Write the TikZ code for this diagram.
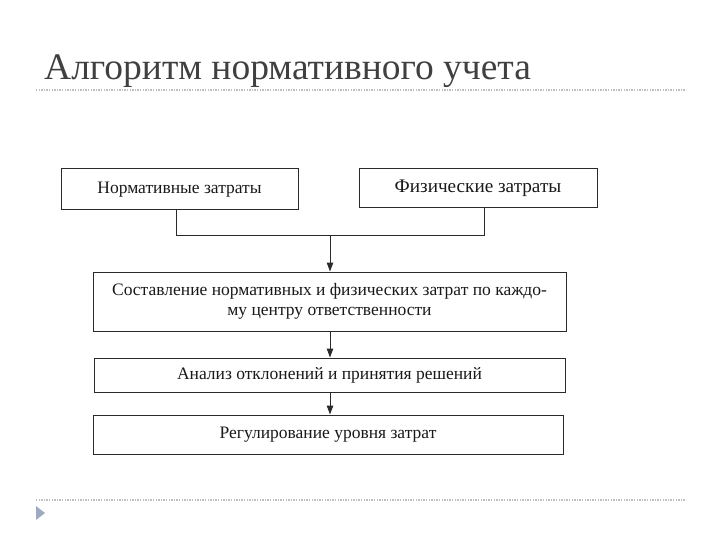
\documentclass[tikz,border=0pt]{standalone}
\usepackage{fontspec}
\setmainfont{Liberation Serif}
\usetikzlibrary{arrows.meta}
\definecolor{titlegray}{HTML}{404040}
\definecolor{dotgray}{HTML}{BFBFBF}
\definecolor{bulletblue}{HTML}{9DAAC0}
\definecolor{linegray}{HTML}{2A2A2A}
\tikzset{
  box/.style={draw=linegray, line width=1pt, minimum height=#1, inner sep=0pt, align=center, font=\fontsize{17.5}{20}\selectfont, text=black!90},
  conn/.style={draw=linegray, line width=1pt},
  arr/.style={conn, -{Triangle[length=9pt,width=6.5pt]}},
  sep/.style={dotgray, line width=1.3pt, dash pattern=on 1.3pt off 1.3pt}
}
\begin{document}
\begin{tikzpicture}[x=1pt,y=-1pt]
\useasboundingbox (0,0) rectangle (720,540);
\node[anchor=base west, text=titlegray, font=\fontsize{37.5}{42}\selectfont, inner sep=0pt] (title) at (44,80) {Алгоритм нормативного учета};
\draw[sep] (36,90) -- (686,90);
\draw[sep] (36,500) -- (686,500);
\fill[bulletblue] (36,506) -- (45,513) -- (36,520) -- cycle;

\node[box=41pt, minimum width=237pt] (b1) at (179.5,189.5) {Нормативные затраты};
\node[box=39pt, minimum width=238pt, font=\fontsize{19.2}{22}\selectfont] (b2) at (478,188.5) {Физические затраты};
\node[box=59pt, minimum width=473pt] (b3) at (329.5,301.5) {Составление нормативных и физических затрат по каждо-\\му центру ответственности};
\node[box=34pt, minimum width=471pt] (b4) at (329.5,375) {Анализ отклонений и принятия решений};
\node[box=39pt, minimum width=470pt] (b5) at (328,434.5) {Регулирование уровня затрат};

\coordinate (j1) at (176,235);
\coordinate (j2) at (484,235);
\coordinate (jm) at (330,235);
\draw[conn] (b1.south -| j1) -- (j1) -- (j2) -- (b2.south -| j2);
\draw[arr] (jm) -- (b3.north -| jm);
\draw[arr] (b3.south -| jm) -- (b4.north -| jm);
\draw[arr] (b4.south -| jm) -- (b5.north -| jm);
\end{tikzpicture}
\end{document}
